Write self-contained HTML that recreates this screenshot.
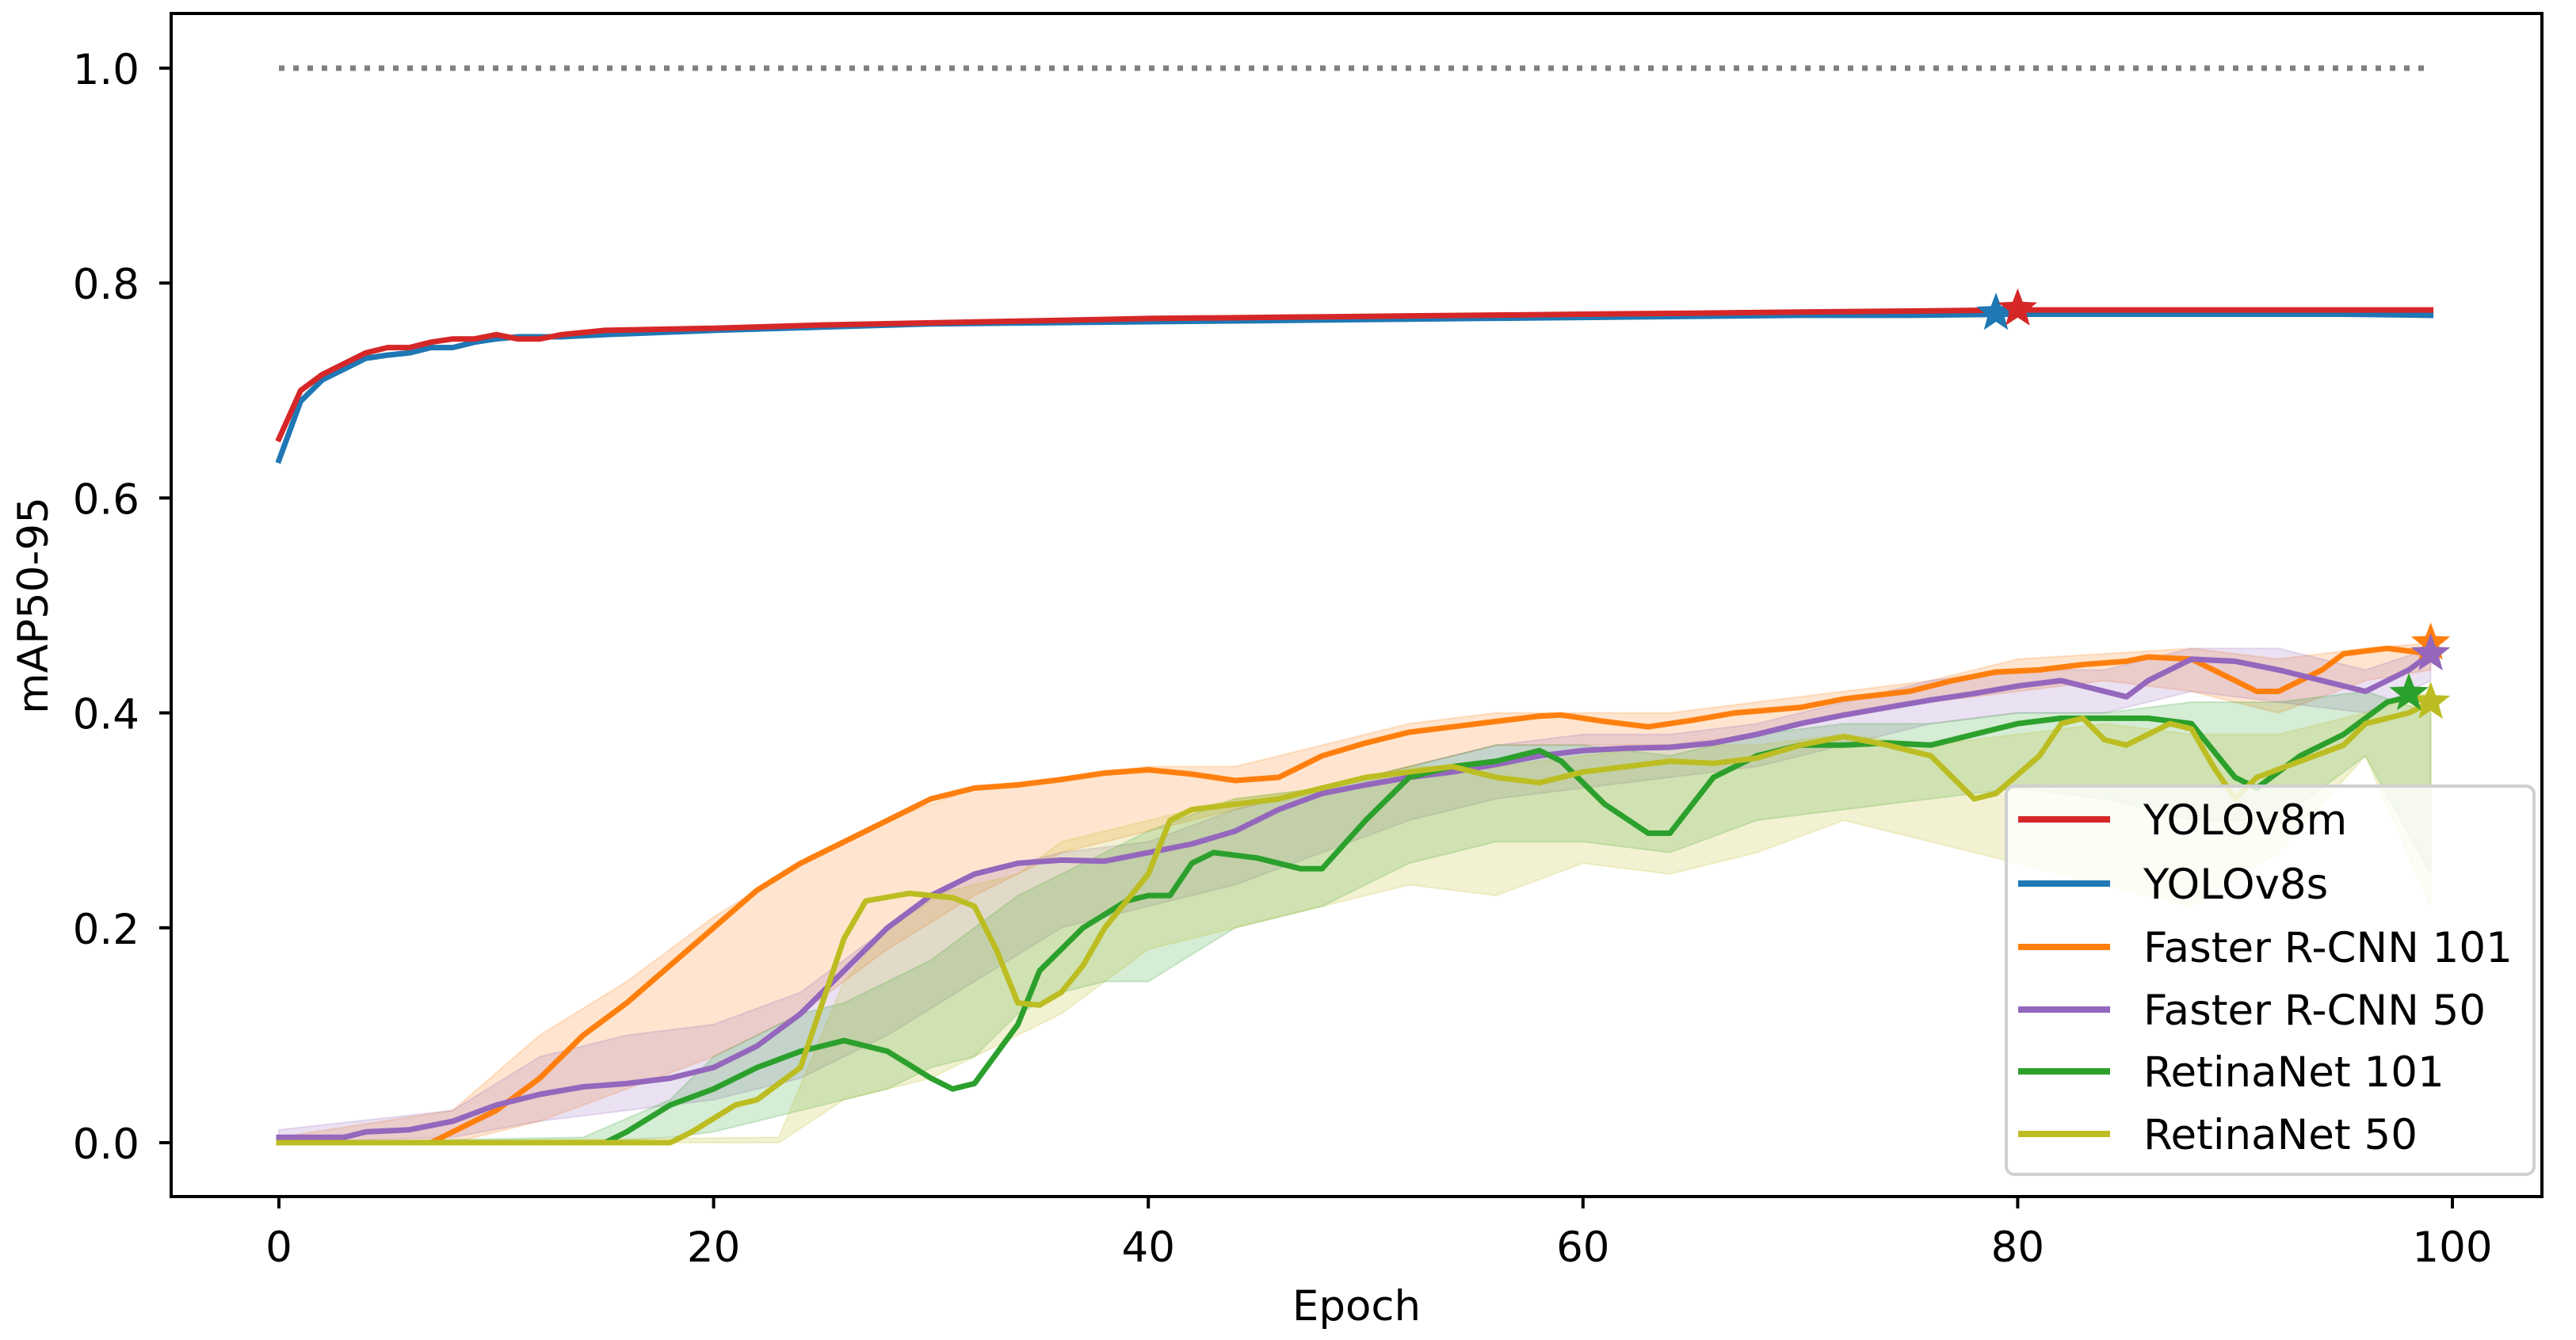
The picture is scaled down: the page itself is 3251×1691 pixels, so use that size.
<!DOCTYPE html>
<html><head><meta charset="utf-8"><style>
html,body{margin:0;padding:0;background:#fff;}
svg{display:block;font-family:"DejaVu Sans","Liberation Sans",sans-serif;}
</style></head><body>
<svg id="chart" width="3251" height="1691" viewBox="0 0 3251 1691" xmlns="http://www.w3.org/2000/svg">
<rect width="3251" height="1691" fill="#fff"/>
<g id="bands"></g><g id="lines"></g><g id="stars"></g><g id="axes"></g><g id="legend"></g>
</svg>
<script>
const xTicks=[0,20,40,60,80,100];
const yTicks=[0.0,0.2,0.4,0.6,0.8,1.0];
const yTickLabels=["0.0","0.2","0.4","0.6","0.8","1.0"];
const seriesNames=["YOLOv8m","YOLOv8s","Faster R-CNN 101","Faster R-CNN 50","RetinaNet 101","RetinaNet 50"];
const seriesColors=["#d62728","#1f77b4","#ff7f0e","#9467bd","#2ca02c","#bcbd22"];

const yoloEpochs=[0,1,2,3,4,5,6,7,8,9,10,11,12,13,14,15,20,25,30,35,40,45,50,55,60,65,70,75,80,85,90,95,99];
const yolo8m=[0.655,0.70,0.715,0.725,0.735,0.74,0.74,0.745,0.748,0.748,0.752,0.748,0.748,0.752,0.754,0.756,0.758,0.761,0.763,0.765,0.767,0.768,0.769,0.770,0.771,0.772,0.773,0.774,0.775,0.775,0.775,0.775,0.775];
const yolo8s=[0.635,0.69,0.71,0.72,0.73,0.733,0.735,0.74,0.74,0.745,0.748,0.75,0.75,0.75,0.751,0.752,0.756,0.759,0.762,0.763,0.764,0.765,0.766,0.767,0.768,0.769,0.770,0.770,0.771,0.771,0.771,0.771,0.770];

const frcnn101Epochs=[0,7,8,10,12,14,16,18,20,22,24,26,28,30,32,34,36,38,40,42,44,46,48,50,52,54,56,58,59,61,63,65,67,70,72,75,77,79,81,83,85,86,88,89,90,91,92,94,95,97,99];
const frcnn101=[0,0,0.01,0.03,0.06,0.1,0.13,0.165,0.2,0.235,0.26,0.28,0.3,0.32,0.33,0.333,0.338,0.344,0.347,0.343,0.337,0.34,0.36,0.372,0.382,0.387,0.392,0.397,0.398,0.392,0.387,0.393,0.4,0.405,0.413,0.42,0.43,0.438,0.44,0.445,0.448,0.452,0.45,0.44,0.43,0.42,0.42,0.44,0.455,0.46,0.455];

const frcnn50Epochs=[0,3,4,6,8,10,12,14,16,18,20,22,24,26,28,30,32,34,36,38,40,42,44,46,48,50,52,54,56,58,60,62,64,66,68,70,72,74,76,78,80,82,84,85,86,88,90,92,94,96,98,99];
const frcnn50=[0.005,0.005,0.01,0.012,0.02,0.035,0.045,0.052,0.055,0.06,0.07,0.09,0.12,0.16,0.2,0.23,0.25,0.26,0.263,0.262,0.27,0.278,0.29,0.31,0.325,0.333,0.34,0.345,0.352,0.36,0.365,0.367,0.368,0.372,0.38,0.39,0.398,0.405,0.412,0.418,0.425,0.43,0.42,0.415,0.43,0.45,0.448,0.44,0.43,0.42,0.44,0.455];

const retina101Epochs=[0,15,16,18,20,22,24,26,28,30,31,32,34,35,37,39,40,41,42,43,45,47,48,50,52,54,56,58,59,61,63,64,66,68,70,72,74,76,78,80,82,84,86,88,90,91,93,95,97,98];
const retina101=[0,0,0.01,0.035,0.05,0.07,0.085,0.095,0.085,0.06,0.05,0.055,0.11,0.16,0.2,0.225,0.23,0.23,0.26,0.27,0.265,0.255,0.255,0.3,0.34,0.35,0.355,0.365,0.355,0.315,0.288,0.288,0.34,0.36,0.37,0.37,0.372,0.37,0.38,0.39,0.395,0.395,0.395,0.39,0.34,0.33,0.36,0.38,0.41,0.415];

const retina50Epochs=[0,18,19,21,22,24,25,26,27,29,31,32,33,34,35,36,37,38,40,41,42,44,46,48,50,52,54,56,58,60,62,64,66,68,70,72,74,76,77,78,79,81,82,83,84,85,86,87,88,89,90,91,93,95,96,98,99];
const retina50=[0,0,0.01,0.035,0.04,0.07,0.13,0.19,0.225,0.232,0.228,0.22,0.18,0.13,0.128,0.14,0.165,0.2,0.25,0.3,0.31,0.315,0.32,0.33,0.34,0.345,0.35,0.34,0.335,0.345,0.35,0.355,0.353,0.358,0.37,0.378,0.37,0.36,0.34,0.32,0.325,0.36,0.39,0.395,0.375,0.37,0.38,0.39,0.385,0.35,0.32,0.34,0.355,0.37,0.39,0.4,0.41];

const frBandEpochs=[0,8,12,16,20,24,28,32,36,40,44,48,52,56,60,64,68,72,76,80,84,88,92,96,99];
const frcnn101Lo=[0,0,0.02,0.05,0.08,0.12,0.18,0.23,0.27,0.29,0.31,0.33,0.35,0.37,0.37,0.37,0.38,0.4,0.41,0.42,0.43,0.42,0.4,0.43,0.44];
const frcnn101Hi=[0.005,0.03,0.1,0.15,0.21,0.26,0.3,0.33,0.34,0.35,0.35,0.37,0.39,0.4,0.4,0.4,0.41,0.42,0.43,0.45,0.455,0.46,0.45,0.46,0.465];
const frcnn50Lo=[0,0.005,0.02,0.03,0.04,0.06,0.1,0.15,0.2,0.22,0.24,0.27,0.3,0.32,0.33,0.34,0.35,0.37,0.39,0.4,0.4,0.42,0.41,0.4,0.43];
const frcnn50Hi=[0.012,0.03,0.08,0.1,0.11,0.14,0.2,0.25,0.27,0.28,0.31,0.33,0.35,0.37,0.38,0.38,0.39,0.41,0.43,0.44,0.44,0.46,0.46,0.44,0.46];
const retina101BandEpochs=[0,14,18,20,22,24,26,28,30,32,34,36,38,40,44,48,52,56,60,64,68,72,76,80,84,88,92,96,99];
const retina101Lo=[0,0,0.005,0.01,0.02,0.03,0.04,0.05,0.07,0.08,0.12,0.14,0.15,0.15,0.2,0.22,0.26,0.28,0.28,0.27,0.3,0.31,0.32,0.33,0.32,0.3,0.3,0.36,0.25];
const retina101Hi=[0,0.005,0.04,0.08,0.1,0.12,0.13,0.15,0.17,0.2,0.23,0.25,0.27,0.29,0.32,0.33,0.35,0.37,0.37,0.36,0.38,0.39,0.39,0.4,0.4,0.41,0.41,0.42,0.4];
const retina50BandEpochs=[0,23,26,28,30,32,34,36,38,40,44,48,52,56,60,64,68,72,76,80,84,88,92,96,99];
const retina50Lo=[0,0,0.04,0.05,0.06,0.08,0.1,0.12,0.15,0.18,0.2,0.22,0.24,0.23,0.26,0.25,0.27,0.3,0.28,0.26,0.24,0.22,0.27,0.36,0.22];
const retina50Hi=[0,0.005,0.15,0.2,0.23,0.24,0.25,0.28,0.29,0.3,0.32,0.33,0.35,0.35,0.36,0.37,0.37,0.38,0.37,0.38,0.39,0.38,0.38,0.4,0.42];

const bestEpochs=[80,79,99,99,98,99];
const bestValues=[0.776,0.772,0.465,0.455,0.418,0.41];
const refLine=[0,99,1.0];

const NS="http://www.w3.org/2000/svg";
const L=216,R=3208,T=17,B=1510;
function xs(e){return 352+e*27.43;}
function ys(v){return 1442-v*1356;}
function mk(tag,attrs,parent){const el=document.createElementNS(NS,tag);for(const k in attrs)el.setAttribute(k,attrs[k]);parent.appendChild(el);return el;}
const gB=document.getElementById('bands'),gL=document.getElementById('lines'),gS=document.getElementById('stars'),gA=document.getElementById('axes'),gG=document.getElementById('legend');

const bands=[[frBandEpochs,frcnn101Lo,frcnn101Hi,2],[frBandEpochs,frcnn50Lo,frcnn50Hi,3],[retina101BandEpochs,retina101Lo,retina101Hi,4],[retina50BandEpochs,retina50Lo,retina50Hi,5]];
bands.forEach(b=>{
  const [ep,lo,hi,ci]=b;let d='';
  ep.forEach((e,i)=>{d+=(i?'L':'M')+xs(e).toFixed(1)+','+ys(hi[i]).toFixed(1);});
  for(let i=ep.length-1;i>=0;i--)d+='L'+xs(ep[i]).toFixed(1)+','+ys(lo[i]).toFixed(1);
  const p=mk('path',{d:d+'Z',fill:seriesColors[ci],'fill-opacity':0.2,stroke:seriesColors[ci],'stroke-opacity':0.2,'stroke-width':2},gB);
  
  
});

const ref=mk('line',{x1:xs(refLine[0]),x2:xs(refLine[1]),y1:ys(refLine[2]),y2:ys(refLine[2]),stroke:'#808080','stroke-width':7,'stroke-dasharray':'7 11'},gL);



const series=[[frcnn101Epochs,frcnn101,2],[frcnn50Epochs,frcnn50,3],[retina101Epochs,retina101,4],[retina50Epochs,retina50,5],[yoloEpochs,yolo8s,1],[yoloEpochs,yolo8m,0]];
series.forEach(s=>{
  const [ep,v,ci]=s;
  const pts=ep.map((e,i)=>xs(e).toFixed(1)+','+ys(v[i]).toFixed(1)).join(' ');
  const pl=mk('polyline',{points:pts,fill:'none',stroke:seriesColors[ci],'stroke-width':7,'stroke-linejoin':'round','stroke-linecap':'square'},gL);
  
  
});

function starPath(cx,cy,r){let d='';for(let i=0;i<10;i++){const a=-Math.PI/2+i*Math.PI/5;const rr=i%2?r*0.42:r;d+=(i?'L':'M')+(cx+rr*Math.cos(a)).toFixed(1)+','+(cy+rr*Math.sin(a)).toFixed(1);}return d+'Z';}
[2,3,5,4,1,0].forEach(ci=>{
  const st=mk('path',{d:starPath(xs(bestEpochs[ci]),ys(bestValues[ci]),26),fill:seriesColors[ci]},gS);
  
  
});

const frame=mk('rect',{x:L,y:T,width:R-L,height:B-T,fill:'none',stroke:'#000','stroke-width':4},gA);


xTicks.forEach(t=>{
  const tk=mk('line',{x1:xs(t),x2:xs(t),y1:B,y2:B+15,stroke:'#000','stroke-width':4},gA);
  
  
  const tx=mk('text',{x:xs(t),y:B+82,'text-anchor':'middle','font-size':53,fill:'#000'},gA);
  tx.textContent=String(t);
  
  
});
yTicks.forEach((t,i)=>{
  const tk=mk('line',{x1:L-15,x2:L,y1:ys(t),y2:ys(t),stroke:'#000','stroke-width':4},gA);
  
  
  const tx=mk('text',{x:176,y:ys(t)+20,'text-anchor':'end','font-size':53,fill:'#000'},gA);
  tx.textContent=yTickLabels[i];
  
  
});
const xl=mk('text',{x:(L+R)/2,y:1666,'text-anchor':'middle','font-size':53,fill:'#000'},gA);
xl.textContent='Epoch';


const yl=mk('text',{x:0,y:0,'text-anchor':'middle','font-size':53,fill:'#000',transform:'translate(60,764) rotate(-90)'},gA);
yl.textContent='mAP50-95';



const lb=mk('rect',{x:2532,y:992,width:666,height:490,rx:10,fill:'#fff','fill-opacity':0.8,stroke:'#d0d0d0','stroke-width':4},gG);


const rowY=[1034,1115,1195,1274,1352,1431];
seriesNames.forEach((n,i)=>{
  const ln=mk('line',{x1:2547,x2:2663,y1:rowY[i],y2:rowY[i],stroke:seriesColors[i],'stroke-width':8},gG);
  
  
  const tx=mk('text',{x:2705,y:rowY[i]+19,'font-size':53,fill:'#000'},gG);
  tx.textContent=n;
  
  
});
</script>
</body></html>
